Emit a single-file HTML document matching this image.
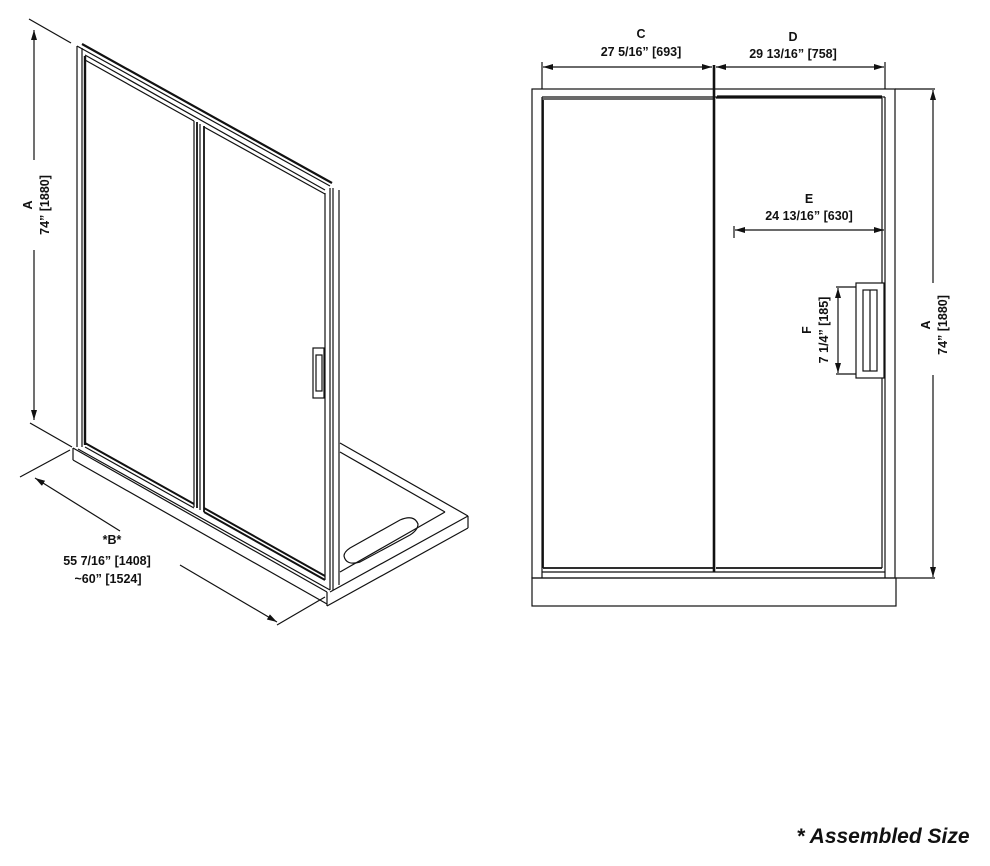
<!DOCTYPE html>
<html><head><meta charset="utf-8"><style>
html,body{margin:0;padding:0;background:#fff;}
svg{display:block}
text{font-family:"Liberation Sans",Arial,sans-serif;font-weight:bold;fill:#111;font-size:12.5px;text-anchor:middle}
</style></head><body>
<svg width="990" height="866" viewBox="0 0 990 866" xmlns="http://www.w3.org/2000/svg">
<defs>
<marker id="ar" viewBox="0 0 10 6" refX="10" refY="3" markerWidth="12" markerHeight="6" markerUnits="userSpaceOnUse" orient="auto-start-reverse"><path d="M0,0 L10,3 L0,6 z" fill="#111"/></marker>
</defs>
<g stroke="#111" fill="none" stroke-width="1.2">
<line x1="34" y1="30" x2="34" y2="160" marker-start="url(#ar)"/>
<line x1="34" y1="250" x2="34" y2="420" marker-end="url(#ar)"/>
<line x1="29" y1="19" x2="71" y2="43"/>
<line x1="30" y1="423" x2="72" y2="447"/>
<line x1="77" y1="46" x2="77" y2="447"/>
<line x1="82" y1="48" x2="82" y2="447"/>
<line x1="85" y1="56" x2="85" y2="445" stroke-width="2.4"/>
<line x1="77" y1="46" x2="330" y2="186"/>
<line x1="82" y1="44" x2="332" y2="183" stroke-width="2.2"/>
<line x1="85" y1="55" x2="325" y2="190"/>
<line x1="85" y1="60" x2="194" y2="121"/>
<line x1="204" y1="127" x2="325" y2="194"/>
<line x1="194" y1="121" x2="194" y2="507"/>
<line x1="197" y1="122" x2="197" y2="508" stroke-width="1.8"/>
<line x1="200" y1="124" x2="200" y2="510"/>
<line x1="204" y1="126" x2="204" y2="512" stroke-width="1.8"/>
<line x1="325" y1="193" x2="325" y2="580"/>
<line x1="330" y1="188" x2="330" y2="590"/>
<line x1="333" y1="188" x2="333" y2="590"/>
<line x1="339" y1="190" x2="339" y2="585"/>
<rect x="313" y="348" width="11" height="50"/>
<rect x="316" y="355" width="6" height="36"/>
<line x1="85" y1="443" x2="194" y2="504" stroke-width="2"/>
<line x1="85" y1="447" x2="194" y2="508"/>
<line x1="204" y1="508" x2="325" y2="576" stroke-width="2"/>
<line x1="204" y1="512" x2="325" y2="580" stroke-width="2"/>
<line x1="73" y1="448" x2="327" y2="592"/>
<line x1="73" y1="460" x2="327" y2="604"/>
<line x1="73" y1="448" x2="73" y2="460"/>
<line x1="78" y1="449" x2="330" y2="590"/>
<line x1="327" y1="592" x2="327" y2="606"/>
<line x1="327" y1="606" x2="468" y2="528"/>
<line x1="330" y1="592" x2="468" y2="516"/>
<line x1="468" y1="516" x2="468" y2="528"/>
<line x1="340" y1="443" x2="468" y2="516"/>
<line x1="340" y1="452" x2="445" y2="512"/>
<line x1="445" y1="512" x2="340" y2="572"/>
<path d="M350,548 L400,520 Q414,514 418,524 Q418,530 410,535 L360,562 Q346,566 344,556 Q344,552 350,548 z"/>
<line x1="35" y1="478" x2="120" y2="531" marker-start="url(#ar)"/>
<line x1="180" y1="565" x2="277" y2="622" marker-end="url(#ar)"/>
<line x1="20" y1="477" x2="70" y2="450"/>
<line x1="277" y1="625" x2="325" y2="597"/>

<rect x="532" y="89" width="363" height="489"/>
<rect x="532" y="578" width="364" height="28"/>
<line x1="542" y1="97" x2="542" y2="578"/>
<line x1="885" y1="97" x2="885" y2="578"/>
<line x1="542" y1="97" x2="885" y2="97"/>
<line x1="542" y1="99" x2="713" y2="99"/>
<line x1="717" y1="96" x2="882" y2="96"/>
<line x1="543" y1="100" x2="543" y2="568" stroke-width="1.8"/>
<line x1="543" y1="568" x2="713" y2="568" stroke-width="1.8"/>
<line x1="716" y1="98" x2="882" y2="98"/>
<line x1="882" y1="98" x2="882" y2="568"/>
<line x1="716" y1="568" x2="882" y2="568" stroke-width="1.8"/>
<line x1="542" y1="572" x2="885" y2="572"/>
<line x1="714" y1="65" x2="714" y2="572" stroke-width="2.6"/>
<line x1="542" y1="62" x2="542" y2="89"/>
<line x1="885" y1="62" x2="885" y2="89"/>
<line x1="543" y1="67" x2="712" y2="67" marker-start="url(#ar)" marker-end="url(#ar)"/>
<line x1="716" y1="67" x2="884" y2="67" marker-start="url(#ar)" marker-end="url(#ar)"/>
<line x1="734" y1="226" x2="734" y2="238"/>
<line x1="735" y1="230" x2="884" y2="230" marker-start="url(#ar)" marker-end="url(#ar)"/>
<rect x="856" y="283" width="28" height="95" fill="#fff"/>
<rect x="863" y="290" width="14" height="81"/>
<line x1="870" y1="290" x2="870" y2="371"/>
<line x1="836" y1="287" x2="856" y2="287"/>
<line x1="836" y1="374" x2="856" y2="374"/>
<line x1="838" y1="288" x2="838" y2="373" marker-start="url(#ar)" marker-end="url(#ar)"/>
<line x1="895" y1="89" x2="935" y2="89"/>
<line x1="896" y1="578" x2="935" y2="578"/>
<line x1="933" y1="90" x2="933" y2="283" marker-start="url(#ar)"/>
<line x1="933" y1="375" x2="933" y2="577" marker-end="url(#ar)"/>
</g>
<text transform="translate(32,205) rotate(-90)">A</text>
<text transform="translate(49,205) rotate(-90)">74” [1880]</text>
<text x="112" y="544">*B*</text>
<text x="107" y="565">55 7/16” [1408]</text>
<text x="108" y="583">~60” [1524]</text>
<text x="641" y="38">C</text>
<text x="641" y="56">27 5/16” [693]</text>
<text x="793" y="41">D</text>
<text x="793" y="58">29 13/16” [758]</text>
<text x="809" y="203">E</text>
<text x="809" y="220">24 13/16” [630]</text>
<text transform="translate(811,330) rotate(-90)">F</text>
<text transform="translate(828,330) rotate(-90)">7 1/4” [185]</text>
<text transform="translate(930,325) rotate(-90)">A</text>
<text transform="translate(947,325) rotate(-90)">74” [1880]</text>
<text x="883" y="843" style="font-size:21px;font-style:italic">* Assembled Size</text>
</svg>
</body></html>
